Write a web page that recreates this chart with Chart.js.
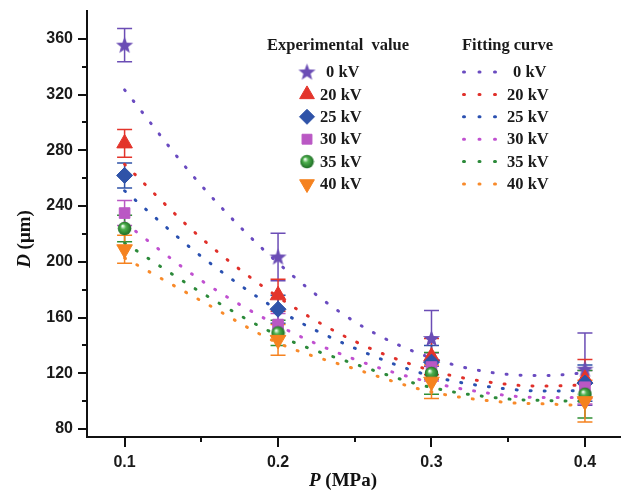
<!DOCTYPE html>
<html>
<head>
<meta charset="utf-8">
<script src="https://cdn.jsdelivr.net/npm/chart.js@4.4.1/dist/chart.umd.min.js"></script>
<style>
  html, body { margin: 0; padding: 0; background: #fff; }
  #wrap { width: 621px; height: 492px; }
</style>
</head>
<body>
<div id="wrap"><canvas id="grafico" width="621" height="492"></canvas></div>
<script>
// Presion (MPa) de los puntos medidos
const presion = [0.1, 0.2, 0.3, 0.4];
const etiquetasKV = ['0 kV', '20 kV', '25 kV', '30 kV', '35 kV', '40 kV'];

// Diametro medido (um) y barra de error de cada voltaje
const d0kV = [355.5, 203.5, 145, 123];
const err0kV = [12, 17, 20, 26];
const d20kV = [285, 176, 132, 116];
const err20kV = [10, 11.5, 13, 14];
const d25kV = [262, 166, 128, 113];
const err25kV = [9, 10, 12, 13];
const d30kV = [235, 155, 124.5, 110];
const err30kV = [9, 8, 10, 12];
const d35kV = [224, 149, 120, 105];
const err35kV = [9.5, 9, 15, 17];
const d40kV = [209, 144, 114, 100];
const err40kV = [10, 11, 12, 15];

// Curvas de ajuste
const presionAjuste = [0.1, 0.15, 0.2, 0.25, 0.3, 0.35, 0.375, 0.4];
const ajuste0kV = [323.4, 254.8, 199.2, 157, 131, 119.2, 118.4, 120.4];
const ajuste20kV = [270, 217, 174.8, 143, 122, 112, 110.9, 111.6];
const ajuste25kV = [251, 203.9, 165.5, 138, 118, 108.7, 107.3, 107.7];
const ajuste30kV = [228, 186.6, 154.3, 130, 113.4, 104, 102.6, 102.6];
const ajuste35kV = [213.6, 178, 147.2, 126.7, 109.8, 101.6, 100.5, 99.8];
const ajuste40kV = [202.8, 172, 141.8, 123.2, 106.6, 99, 98, 96.8];

// Ejes
const ticksX = [0.1, 0.15, 0.2, 0.25, 0.3, 0.35, 0.4];
const etiquetasX = ['0.1', '', '0.2', '', '0.3', '', '0.4'];
const ticksY = [80, 100, 120, 140, 160, 180, 200, 220, 240, 260, 280, 300, 320, 340, 360];

const colores = ['#6B4DB5', '#E3342B', '#2F53A8', '#BA58C4', '#2F8F35', '#F5821F'];
const coloresAjuste = ['#6A4BC0', '#E0302A', '#2A50B0', '#C050D0', '#2C8A3A', '#F88A2A'];

// Marcadores propios: estrella rellena y esfera
function crearEstrella(color) {
  const c = document.createElement('canvas');
  c.width = 19; c.height = 19;
  const g = c.getContext('2d');
  g.fillStyle = color;
  g.beginPath();
  for (let i = 0; i < 10; i++) {
    const r = i % 2 === 0 ? 9 : 3.8;
    const a = -Math.PI / 2 + i * Math.PI / 5;
    g.lineTo(9.5 + r * Math.cos(a), 10 + r * Math.sin(a));
  }
  g.closePath();
  g.fill();
  return c;
}

function crearEsfera() {
  const c = document.createElement('canvas');
  c.width = 15; c.height = 15;
  const g = c.getContext('2d');
  const grad = g.createRadialGradient(5.5, 5, 0.5, 7.5, 7.5, 7);
  grad.addColorStop(0, '#f2fff2');
  grad.addColorStop(0.35, '#4db04d');
  grad.addColorStop(1, '#1b6a22');
  g.fillStyle = grad;
  g.beginPath();
  g.arc(7.5, 7.5, 6.8, 0, Math.PI * 2);
  g.fill();
  return c;
}

const estrella = crearEstrella(colores[0]);
const esfera = crearEsfera();

const series = [
  { d: d0kV, err: err0kV, ajuste: ajuste0kV, estilo: estrella, radio: 9, rot: 0 },
  { d: d20kV, err: err20kV, ajuste: ajuste20kV, estilo: 'triangle', radio: 9, rot: 0 },
  { d: d25kV, err: err25kV, ajuste: ajuste25kV, estilo: 'rectRot', radio: 8, rot: 0 },
  { d: d30kV, err: err30kV, ajuste: ajuste30kV, estilo: 'rect', radio: 7.5, rot: 0 },
  { d: d35kV, err: err35kV, ajuste: ajuste35kV, estilo: esfera, radio: 7, rot: 0 },
  { d: d40kV, err: err40kV, ajuste: ajuste40kV, estilo: 'triangle', radio: 9, rot: 180 }
];

const datasets = [];
series.forEach((s, i) => {
  datasets.push({
    label: 'Ajuste ' + etiquetasKV[i],
    data: presionAjuste.map((p, j) => ({ x: p, y: s.ajuste[j] })),
    showLine: true,
    borderColor: coloresAjuste[i],
    borderWidth: 3,
    borderDash: [1, 13],
    borderCapStyle: 'round',
    cubicInterpolationMode: 'monotone',
    pointRadius: 0,
    order: 20 - i
  });
});
series.forEach((s, i) => {
  datasets.push({
    label: etiquetasKV[i],
    data: presion.map((p, j) => ({ x: p, y: s.d[j] })),
    showLine: false,
    pointStyle: s.estilo,
    pointRadius: s.radio,
    pointRotation: s.rot,
    backgroundColor: colores[i],
    borderColor: colores[i],
    pointBorderWidth: 1,
    order: 5 - i
  });
});

// Barras de error (dibujadas con las escalas del grafico)
const barrasError = {
  id: 'barrasError',
  beforeDatasetsDraw(chart) {
    const { ctx, scales: { x, y } } = chart;
    series.forEach((s, i) => {
      ctx.save();
      ctx.strokeStyle = colores[i];
      ctx.lineWidth = 1.5;
      presion.forEach((p, j) => {
        const px = x.getPixelForValue(p);
        const arriba = y.getPixelForValue(s.d[j] + s.err[j]);
        const abajo = y.getPixelForValue(s.d[j] - s.err[j]);
        ctx.beginPath();
        ctx.moveTo(px, arriba); ctx.lineTo(px, abajo);
        ctx.moveTo(px - 7.5, arriba); ctx.lineTo(px + 7.5, arriba);
        ctx.moveTo(px - 7.5, abajo); ctx.lineTo(px + 7.5, abajo);
        ctx.stroke();
      });
      ctx.restore();
    });
  }
};

// Marcas de los ejes (mayores y menores) y titulos de los ejes
const ejes = {
  id: 'ejes',
  afterDraw(chart) {
    const { ctx, scales: { x, y } } = chart;
    ctx.save();
    ctx.strokeStyle = '#111';
    ctx.lineWidth = 2;
    ctx.beginPath();
    ticksY.forEach(v => {
      const py = Math.round(y.getPixelForValue(v));
      const largo = v % 40 === 0 ? 9 : 5;
      ctx.moveTo(x.left - largo, py); ctx.lineTo(x.left, py);
    });
    ticksX.forEach((v, i) => {
      const px = Math.round(x.getPixelForValue(v));
      const largo = etiquetasX[i] ? 10 : 5;
      ctx.moveTo(px, y.bottom); ctx.lineTo(px, y.bottom + largo);
    });
    ctx.stroke();

    ctx.fillStyle = '#111';
    ctx.textBaseline = 'middle';
    const fItal = 'italic bold 19px "Liberation Serif"';
    const fNorm = 'bold 19px "Liberation Serif"';
    // titulo X
    ctx.font = fItal; const wP = ctx.measureText('P').width;
    ctx.font = fNorm; const wR = ctx.measureText(' (MPa)').width;
    let cx = 343 - (wP + wR) / 2;
    ctx.textAlign = 'left';
    ctx.font = fItal; ctx.fillText('P', cx, 481);
    ctx.font = fNorm; ctx.fillText(' (MPa)', cx + wP, 481);
    // titulo Y
    ctx.translate(25, 239);
    ctx.rotate(-Math.PI / 2);
    ctx.font = fItal; const wD = ctx.measureText('D').width;
    ctx.font = fNorm; const wU = ctx.measureText(' (\u03bcm)').width;
    cx = -(wD + wU) / 2;
    ctx.font = fItal; ctx.fillText('D', cx, 0);
    ctx.font = fNorm; ctx.fillText(' (\u03bcm)', cx + wD, 0);
    ctx.restore();
  }
};

// Leyenda en dos columnas
const leyenda = {
  id: 'leyenda',
  afterDraw(chart) {
    const ctx = chart.ctx;
    ctx.save();
    ctx.fillStyle = '#1a1a1a';
    ctx.font = 'bold 16.5px "Liberation Serif"';
    ctx.textBaseline = 'middle';
    ctx.textAlign = 'left';
    ctx.fillText('Experimental  value', 267, 46);
    ctx.fillText('Fitting curve', 462, 46);
    series.forEach((s, i) => {
      const fy = 72 + i * 22.4;
      ctx.fillStyle = colores[i];
      ctx.strokeStyle = colores[i];
      Chart.helpers.drawPoint(ctx, { pointStyle: s.estilo, radius: s.radio - 0.5, rotation: s.rot, borderWidth: 1 }, 307, fy);
      ctx.fillStyle = '#1a1a1a';
      const extra = etiquetasKV[i].length < 5 ? 6 : 0;
      ctx.fillText(etiquetasKV[i], 320 + extra, fy + 1);
      ctx.fillText(etiquetasKV[i], 507 + extra, fy + 1);
      ctx.save();
      ctx.strokeStyle = coloresAjuste[i];
      ctx.lineWidth = 3;
      ctx.lineCap = 'round';
      ctx.setLineDash([1, 14.5]);
      ctx.beginPath();
      ctx.moveTo(463.5, fy); ctx.lineTo(497, fy);
      ctx.stroke();
      ctx.restore();
    });
    ctx.restore();
  }
};

const ctx = document.getElementById('grafico').getContext('2d');
new Chart(ctx, {
  type: 'scatter',
  data: { datasets: datasets },
  options: {
    responsive: false,
    animation: false,
    layout: { autoPadding: false, padding: { top: 11, right: 0, left: 0, bottom: 0 } },
    plugins: {
      legend: { display: false },
      tooltip: { enabled: false }
    },
    scales: {
      x: {
        type: 'linear',
        min: 0.0755,
        max: 0.4235,
        afterBuildTicks: (s) => { s.ticks = ticksX.map(v => ({ value: v })); },
        afterFit: (s) => { s.height = 55; s.paddingLeft = 0; s.paddingRight = 0; },
        grid: { drawOnChartArea: false, drawTicks: false },
        border: { color: '#111', width: 2 },
        ticks: {
          autoSkip: false,
          maxRotation: 0,
          padding: 16,
          color: '#1a1a1a',
          font: { family: '"Liberation Sans"', weight: 'bold', size: 16 },
          callback: (v, i) => etiquetasX[i]
        }
      },
      y: {
        type: 'linear',
        min: 74.3,
        max: 380,
        afterBuildTicks: (s) => { s.ticks = ticksY.map(v => ({ value: v })); },
        afterFit: (s) => { s.width = 87; s.paddingTop = 0; s.paddingBottom = 0; },
        grid: { drawOnChartArea: false, drawTicks: false },
        border: { color: '#111', width: 2 },
        ticks: {
          autoSkip: false,
          padding: 14,
          color: '#1a1a1a',
          font: { family: '"Liberation Sans"', weight: 'bold', size: 16 },
          callback: (v) => (v % 40 === 0 ? String(v) : '')
        }
      }
    }
  },
  plugins: [barrasError, ejes, leyenda]
});
</script>
</body>
</html>
